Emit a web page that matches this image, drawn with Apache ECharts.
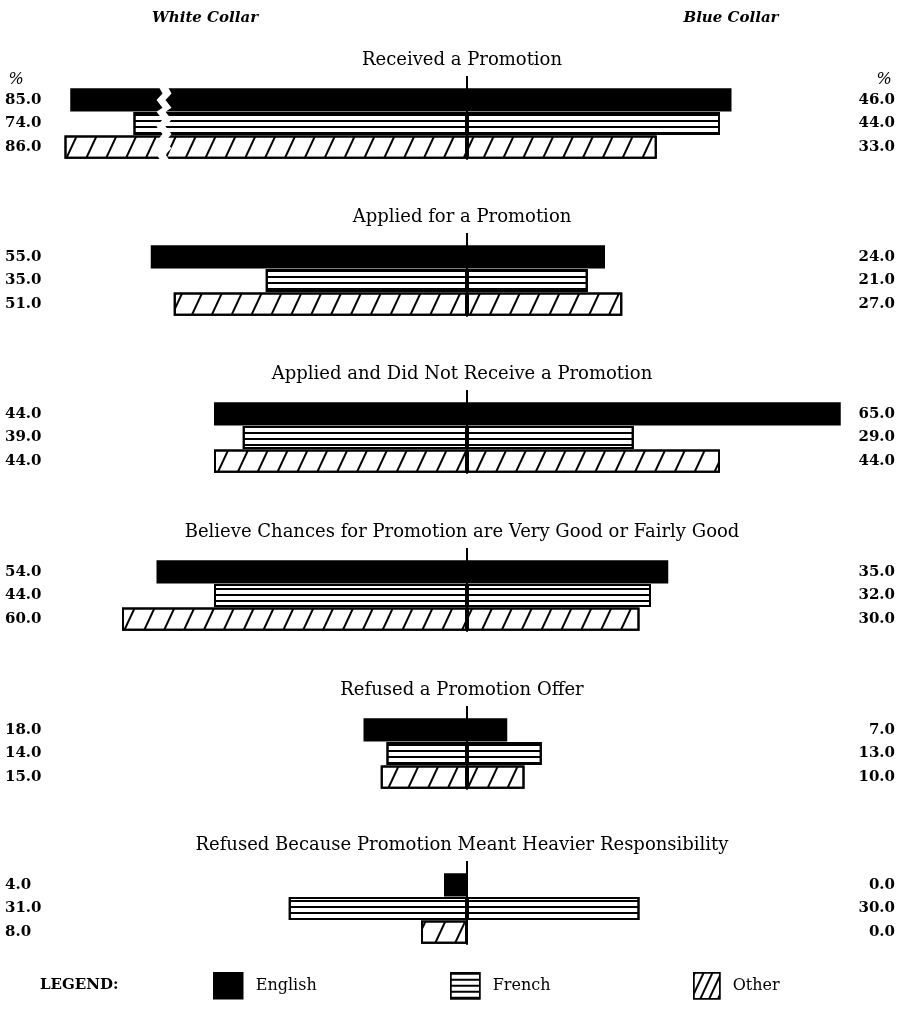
<!DOCTYPE html>
<html><head><meta charset="utf-8">
<script src="https://cdn.jsdelivr.net/npm/echarts@6/dist/echarts.min.js"></script>
<style>html,body{margin:0;padding:0;background:#fff}#c{width:907px;height:1016px}</style>
</head><body><div id="c"></div>
<script>
// ---- data ----
const panelTitles = [
  'Received a Promotion',
  'Applied for a Promotion',
  'Applied and Did Not Receive a Promotion',
  'Believe Chances for Promotion are Very Good or Fairly Good',
  'Refused a Promotion Offer',
  'Refused Because Promotion Meant Heavier Responsibility'
];
const groups = ['English', 'French', 'Other'];
const whiteCollar = [[85, 74, 86], [55, 35, 51], [44, 39, 44], [54, 44, 60], [18, 14, 15], [4, 31, 8]];
const blueCollar  = [[46, 44, 33], [24, 21, 27], [65, 29, 44], [35, 32, 30], [7, 13, 10], [0, 30, 0]];
const sideHeads = ['White Collar', 'Blue Collar'];

// ---- layout / style ----
const SERIF = '"DejaVu Serif", serif';
const gridTops = [88, 245, 402, 560, 718, 873];
const gridH = 71;
const cx = 467, ppu = 5.75, axMin = -70, axMax = 70;
const gridLeft = cx + axMin * ppu;
const gridW = (axMax - axMin) * ppu;
const gridRight = gridLeft + gridW;

const hatch = (gap) => ({ symbol: 'rect', symbolSize: 1, dashArrayX: [1, 0], dashArrayY: [1.8, gap], rotation: -65 * Math.PI / 180, color: '#000' });
const styles = [
  { color: '#000', borderColor: '#000', borderWidth: 2 },
  { color: '#fff', borderColor: '#000', borderWidth: 2,
    decal: { symbol: 'rect', symbolSize: 1, dashArrayX: [1, 0], dashArrayY: [1.6, 3.8], rotation: 0, color: '#000' } },
  { color: '#fff', borderColor: '#000', borderWidth: 2, decal: hatch(16) }
];

const grid = [], xAxis = [], yAxis = [], series = [], graphic = [];
const labelFont = { fontFamily: SERIF, fontWeight: 'bold', fontSize: 15, color: '#000' };

for (let p = 0; p < 6; p++) {
  grid.push({ left: gridLeft, top: gridTops[p], width: gridW, height: gridH, outerBoundsMode: 'none', containLabel: false });
  const xa = {
    gridIndex: p, type: 'value', min: axMin, max: axMax, position: 'top', z: 10,
    axisLine: { show: false }, axisLabel: { show: false }, splitLine: { show: false },
    axisTick: { show: true, customValues: [0], length: 12, inside: false, lineStyle: { color: '#000', width: 2 } }
  };
  if (p === 0) {
    xa.min = -86;
    xa.breaks = [{ start: -69.5, end: -52, gap: 1.5 }];
    xa.breakArea = { show: true, expandOnClick: false, zigzagAmplitude: 3, zigzagMinSpan: 3, zigzagMaxSpan: 8,
      itemStyle: { color: '#fff', borderWidth: 0, opacity: 1 } };
  }
  xAxis.push(xa);
  yAxis.push({
    gridIndex: p, type: 'category', data: groups, inverse: true, position: 'left', z: 10,
    axisLine: { show: true, onZero: true, lineStyle: { color: '#000', width: 2 } },
    axisTick: { show: false }, axisLabel: { show: false }, splitLine: { show: false }
  });
  yAxis.push({
    gridIndex: p, type: 'category', data: groups, inverse: true, position: 'left',
    axisLine: { show: false, onZero: false }, axisTick: { show: false }, splitLine: { show: false },
    axisLabel: Object.assign({ formatter: (v, i) => whiteCollar[p][i].toFixed(1), align: 'left', margin: gridLeft - 5 }, labelFont)
  });
  yAxis.push({
    gridIndex: p, type: 'category', data: groups, inverse: true, position: 'right',
    axisLine: { show: false, onZero: false }, axisTick: { show: false }, splitLine: { show: false },
    axisLabel: Object.assign({ formatter: (v, i) => blueCollar[p][i].toFixed(1), align: 'right', margin: 895 - gridRight }, labelFont)
  });
  for (let k = 0; k < 3; k++) {
    [[whiteCollar, -1], [blueCollar, 1]].forEach(([src, sign]) => {
      series.push({
        type: 'bar', name: groups[k], xAxisIndex: p, yAxisIndex: 3 * p,
        data: groups.map((g, i) => (i === k ? sign * src[p][k] : '-')),
        barGap: '-100%', barCategoryGap: '2%', itemStyle: styles[k], silent: true
      });
    });
  }
  graphic.push({ type: 'text', x: 462, y: gridTops[p] - 28,
    style: { text: panelTitles[p], font: '18px ' + SERIF, fill: '#000', textAlign: 'center', textVerticalAlign: 'middle' } });
}

graphic.push({ type: 'text', x: 205, y: 18, style: { text: sideHeads[0], font: 'italic bold 15px ' + SERIF, fill: '#000', textAlign: 'center', textVerticalAlign: 'middle' } });
graphic.push({ type: 'text', x: 731, y: 18, style: { text: sideHeads[1], font: 'italic bold 15px ' + SERIF, fill: '#000', textAlign: 'center', textVerticalAlign: 'middle' } });
graphic.push({ type: 'text', x: 16, y: 80, style: { text: '%', font: 'italic 16px ' + SERIF, fill: '#000', textAlign: 'center', textVerticalAlign: 'middle' } });
graphic.push({ type: 'text', x: 884, y: 80, style: { text: '%', font: 'italic 16px ' + SERIF, fill: '#000', textAlign: 'center', textVerticalAlign: 'middle' } });
graphic.push({ type: 'text', x: 40, y: 985, style: { text: 'LEGEND:', font: 'bold 15px ' + SERIF, fill: '#000', textAlign: 'left', textVerticalAlign: 'middle' } });

const legendLefts = [213, 450, 693];
const legendDecals = ['inherit', 'inherit', hatch(6)];
const legend = groups.map((g, i) => ({
  data: [g], left: legendLefts[i], top: 972, padding: 0, icon: 'rect', itemWidth: i === 2 ? 26 : 29, itemHeight: 26,
  selectedMode: false,
  itemStyle: { borderColor: '#000', borderWidth: 1.5, decal: legendDecals[i] },
  textStyle: { fontFamily: SERIF, fontSize: 16, color: '#000', padding: [0, 0, 0, 8] }
}));

const chart = echarts.init(document.getElementById('c'));
chart.setOption({
  animation: false, backgroundColor: '#fff',
  grid, xAxis, yAxis, series, legend, graphic
});
</script></body></html>
